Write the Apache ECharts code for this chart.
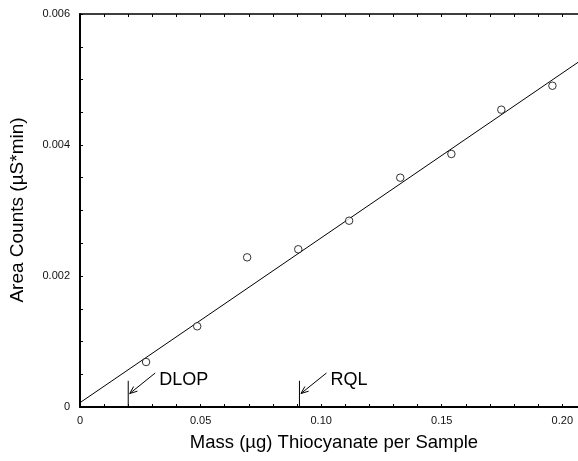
<!DOCTYPE html>
<html>
<head>
<meta charset="utf-8">
<script src="https://cdn.jsdelivr.net/npm/echarts@6/dist/echarts.min.js"></script>
<style>
html,body{margin:0;padding:0;background:#fff;}
#chart{width:578px;height:461px;}
</style>
</head>
<body>
<div id="chart"></div>
<script>
// ---- data ----
const xTickValues = [0, 0.05, 0.10, 0.15, 0.20];
const xTickLabels = ['0', '0.05', '0.10', '0.15', '0.20'];
const yTickValues = [0, 0.002, 0.004, 0.006];
const yTickLabels = ['0', '0.002', '0.004', '0.006'];

const massValues = [0.0274, 0.0486, 0.0693, 0.0905, 0.1116, 0.1328, 0.1540, 0.1747, 0.1959];
const areaValues = [0.000687, 0.001232, 0.002285, 0.002408, 0.002844, 0.003501, 0.003863, 0.004539, 0.004905];

const fitX = [0, 0.2065];
const fitY = [0.000066, 0.005262];

const annotLabels = ['DLOP', 'RQL'];
const annotX = [0.02, 0.091];
const annotTopY = [0.0004, 0.0004];

const xTitle = 'Mass (\u00b5g) Thiocyanate per Sample';
const yTitle = 'Area Counts (\u00b5S*min)';

// ---- chart ----
const FONT = '"Liberation Sans", Arial, sans-serif';
function lookup(vals, labels, v) {
  for (let i = 0; i < vals.length; i++) if (Math.abs(vals[i] - v) < 1e-9) return labels[i];
  return '';
}

const chart = echarts.init(document.getElementById('chart'), null, {renderer: 'canvas'});
const option = {
  animation: false,
  backgroundColor: '#fff',
  grid: {left: 80, right: 0, top: 14, bottom: 54, containLabel: false, outerBoundsMode: 'none'},
  xAxis: [{
    type: 'value', min: 0, max: 0.2065, interval: 0.01,
    axisLine: {show: true, onZero: false, lineStyle: {color: '#000', width: 2}},
    axisTick: {show: true, inside: true, length: 3, lineStyle: {color: '#000', width: 1}},
    axisLabel: {show: true, margin: 8, color: '#111', fontFamily: FONT, fontSize: 11,
      formatter: v => lookup(xTickValues, xTickLabels, v), showMaxLabel: false},
    splitLine: {show: false}
  }, {
    type: 'value', position: 'top', min: 0, max: 0.2065, interval: 0.01,
    axisLine: {show: true, onZero: false, lineStyle: {color: '#000', width: 1.5}},
    axisTick: {show: true, inside: true, length: 3, lineStyle: {color: '#000', width: 1}},
    axisLabel: {show: false},
    splitLine: {show: false}
  }],
  yAxis: [{
    type: 'value', min: 0, max: 0.006, interval: 0.0005,
    axisLine: {show: true, onZero: false, lineStyle: {color: '#000', width: 2}},
    axisTick: {show: true, inside: true, length: 3, lineStyle: {color: '#000', width: 1}},
    axisLabel: {show: true, margin: 10, color: '#111', fontFamily: FONT, fontSize: 11,
      formatter: v => lookup(yTickValues, yTickLabels, v)},
    splitLine: {show: false}
  }],
  graphic: [{
    type: 'text', x: 334, y: 443,
    style: {text: xTitle, fill: '#000', font: '18.5px ' + FONT, textAlign: 'center', textVerticalAlign: 'middle'}
  }, {
    type: 'text', x: 17.5, y: 210, rotation: Math.PI / 2,
    style: {text: yTitle, fill: '#000', font: '19px ' + FONT, textAlign: 'center', textVerticalAlign: 'middle'}
  }],
  series: [{
    type: 'line',
    data: fitX.map((x, i) => [x, fitY[i]]),
    symbol: 'none',
    lineStyle: {color: '#000', width: 1},
    z: 2
  }, {
    type: 'scatter',
    data: massValues.map((x, i) => [x, areaValues[i]]),
    symbol: 'circle', symbolSize: 7.5,
    itemStyle: {color: '#fff', borderColor: '#000', borderWidth: 1},
    z: 3
  }, {
    type: 'custom',
    data: annotX.map((x, i) => [x, annotTopY[i], i]),
    clip: false,
    z: 4,
    renderItem: function (params, api) {
      const base = api.coord([api.value(0), 0]);
      const top = api.coord([api.value(0), api.value(1)]);
      const px = base[0];
      const tip = [px + 1.5, base[1] - 13.5];
      const tail = [px + 27, base[1] - 34];
      const dx = tail[0] - tip[0], dy = tail[1] - tip[1];
      const len = Math.sqrt(dx * dx + dy * dy);
      const ux = dx / len, uy = dy / len;
      const a = 22 * Math.PI / 180, L = 8;
      const b1 = [tip[0] + L * (ux * Math.cos(a) - uy * Math.sin(a)), tip[1] + L * (ux * Math.sin(a) + uy * Math.cos(a))];
      const b2 = [tip[0] + L * (ux * Math.cos(-a) - uy * Math.sin(-a)), tip[1] + L * (ux * Math.sin(-a) + uy * Math.cos(-a))];
      const ls = {stroke: '#000', lineWidth: 1};
      return {
        type: 'group',
        children: [
          {type: 'line', shape: {x1: px, y1: base[1], x2: px, y2: top[1]}, style: ls},
          {type: 'line', shape: {x1: tail[0], y1: tail[1], x2: tip[0], y2: tip[1]}, style: ls},
          {type: 'polyline', shape: {points: [b1, tip, b2]}, style: Object.assign({fill: 'none'}, ls)},
          {type: 'text', x: px + 31, y: base[1] - 27,
           style: {text: annotLabels[api.value(2)], fill: '#000', font: '18px ' + FONT, textAlign: 'left', textVerticalAlign: 'middle'}}
        ]
      };
    }
  }]
};
chart.setOption(option);
</script>
</body>
</html>
